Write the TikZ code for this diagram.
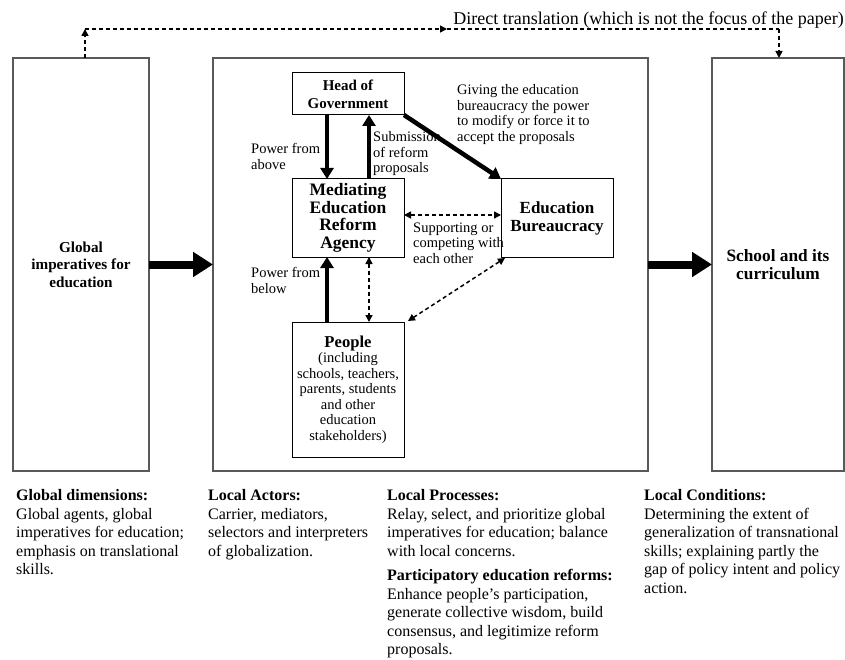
\documentclass[tikz,border=0pt]{standalone}
\usepackage{fontspec}
\setmainfont{Liberation Serif}
\usetikzlibrary{positioning,arrows.meta}

\begin{document}
\begin{tikzpicture}[x=1pt,y=-1pt,
    outerbox/.style={draw=black!65, line width=1.2pt, minimum width=136pt, minimum height=413pt,
      inner sep=0pt, outer sep=0pt, align=center, font=\fontsize{15.2}{17.5}\selectfont\bfseries},
    innerbox/.style={draw, line width=1pt, minimum width=112pt, inner sep=0pt, outer sep=0pt, align=center},
    powerarrow/.style={line width=4.5pt, -{Triangle[length=11pt,width=13pt]}},
    bigarrow/.style={line width=8pt, -{Triangle[length=20pt,width=24pt]}},
    dasharrow/.style={line width=1.5pt, dash pattern=on 4pt off 3pt,
      {Triangle[length=7pt,width=7pt]}-{Triangle[length=7pt,width=7pt]}},
    topdash/.style={line width=1.5pt, dash pattern=on 4pt off 3pt},
    lbl/.style={align=left, inner sep=0pt, anchor=west, font=\fontsize{14.5}{15.5}\selectfont},
    note/.style={align=left, inner sep=0pt, anchor=north west, font=\fontsize{16}{18.5}\selectfont}]
    \useasboundingbox (0,0) rectangle (845,660);

    % outer columns
    \node[outerbox] (glob) at (81,264.5) {Global\\imperatives for\\education};
    \node[outerbox, minimum width=435pt, right=64pt of glob] (local) {};
    \node[outerbox, minimum width=132pt, right=64pt of local,
      font=\fontsize{17.3}{18}\selectfont\bfseries] (school) {School and its\\curriculum};

    % local actors
    \node[innerbox, minimum height=42pt, font=\fontsize{15}{18}\selectfont\bfseries] (hog) at (348,94) {Head of\\Government};
    \node[innerbox, minimum height=78pt, below=64pt of hog,
      font=\fontsize{17.5}{17.7}\selectfont\bfseries] (mera) {Mediating\\Education\\Reform\\Agency};
    \node[innerbox, minimum height=78pt, right=97pt of mera,
      font=\fontsize{17}{18}\selectfont\bfseries] (edub) {Education\\Bureaucracy};
    \node[innerbox, minimum height=135pt, below=65pt of mera, font=\fontsize{14.5}{15.5}\selectfont] (people)
      {{\fontsize{16.6}{17}\selectfont\bfseries People}\\(including\\schools, teachers,\\parents, students\\and other\\education\\stakeholders)};

    \draw[powerarrow] ([xshift=-21pt]hog.south) -- ([xshift=-21pt]mera.north);
    \draw[powerarrow] ([xshift=21pt]mera.north) -- ([xshift=21pt]hog.south);
    \draw[powerarrow] ([xshift=-21pt]people.north) -- ([xshift=-21pt]mera.south);
    \draw[powerarrow] (hog.south east) -- (edub.north west);

    \draw[dasharrow] ([yshift=3pt]mera.east) -- ([yshift=3pt]edub.west);
    \draw[dasharrow] ([xshift=21pt]mera.south) -- ([xshift=21pt]people.north);
    \draw[dasharrow] ([xshift=4pt,yshift=1pt]people.north east) -- ([xshift=4pt,yshift=-1pt]edub.south west);

    \node[lbl] (pabove) at (251,156.5) {Power from\\above};
    \node[lbl] (submit) at (373,154) {Submission\\of reform\\proposals};
    \node[lbl] (pbelow) at (251,280.5) {Power from\\below};
    \node[lbl] (support) at (413,243) {Supporting or\\competing with\\each other};
    \node[lbl] (giving) at (457,114.5) {Giving the education\\bureaucracy the power\\to modify or force it to\\accept the proposals};

    % main flow
    \draw[bigarrow] (glob.east) -- (local.west);
    \draw[bigarrow] (local.east) -- (school.west);

    % direct translation
    \coordinate (tl) at (85,29);
    \coordinate (tm) at (447,29);
    \coordinate (tr) at (779,29);
    \draw[topdash, -{Triangle[length=7pt,width=7pt]}] ([xshift=4pt]glob.north) -- (tl);
    \draw[topdash, -{Triangle[length=7pt,width=7pt]}] (tl) -- (tm);
    \draw[topdash] (tm) -- (tr);
    \draw[topdash, -{Triangle[length=7pt,width=7pt]}] (tr) -- ([xshift=1pt]school.north);
    \node[anchor=east, inner sep=0pt, font=\fontsize{18}{20}\selectfont] (direct) at (844,20)
      {Direct translation (which is not the focus of the paper)};

    % column notes
    \node[note] (gdim) at (16,489.5) {\textbf{Global dimensions:}\\Global agents, global\\imperatives for education;\\emphasis on translational\\skills.};
    \node[note] (lact) at (208,489.5) {\textbf{Local Actors:}\\Carrier, mediators,\\selectors and interpreters\\of globalization.};
    \node[note] (lproc) at (387,489.5) {\textbf{Local Processes:}\\Relay, select, and prioritize global\\imperatives for education; balance\\with local concerns.};
    \node[note] (pedu) at (387,569.5) {\textbf{Participatory education reforms:}\\Enhance people’s participation,\\generate collective wisdom, build\\consensus, and legitimize reform\\proposals.};
    \node[note] (lcond) at (644,489.5) {\textbf{Local Conditions:}\\Determining the extent of\\generalization of transnational\\skills; explaining partly the\\gap of policy intent and policy\\action.};
\end{tikzpicture}
\end{document}
